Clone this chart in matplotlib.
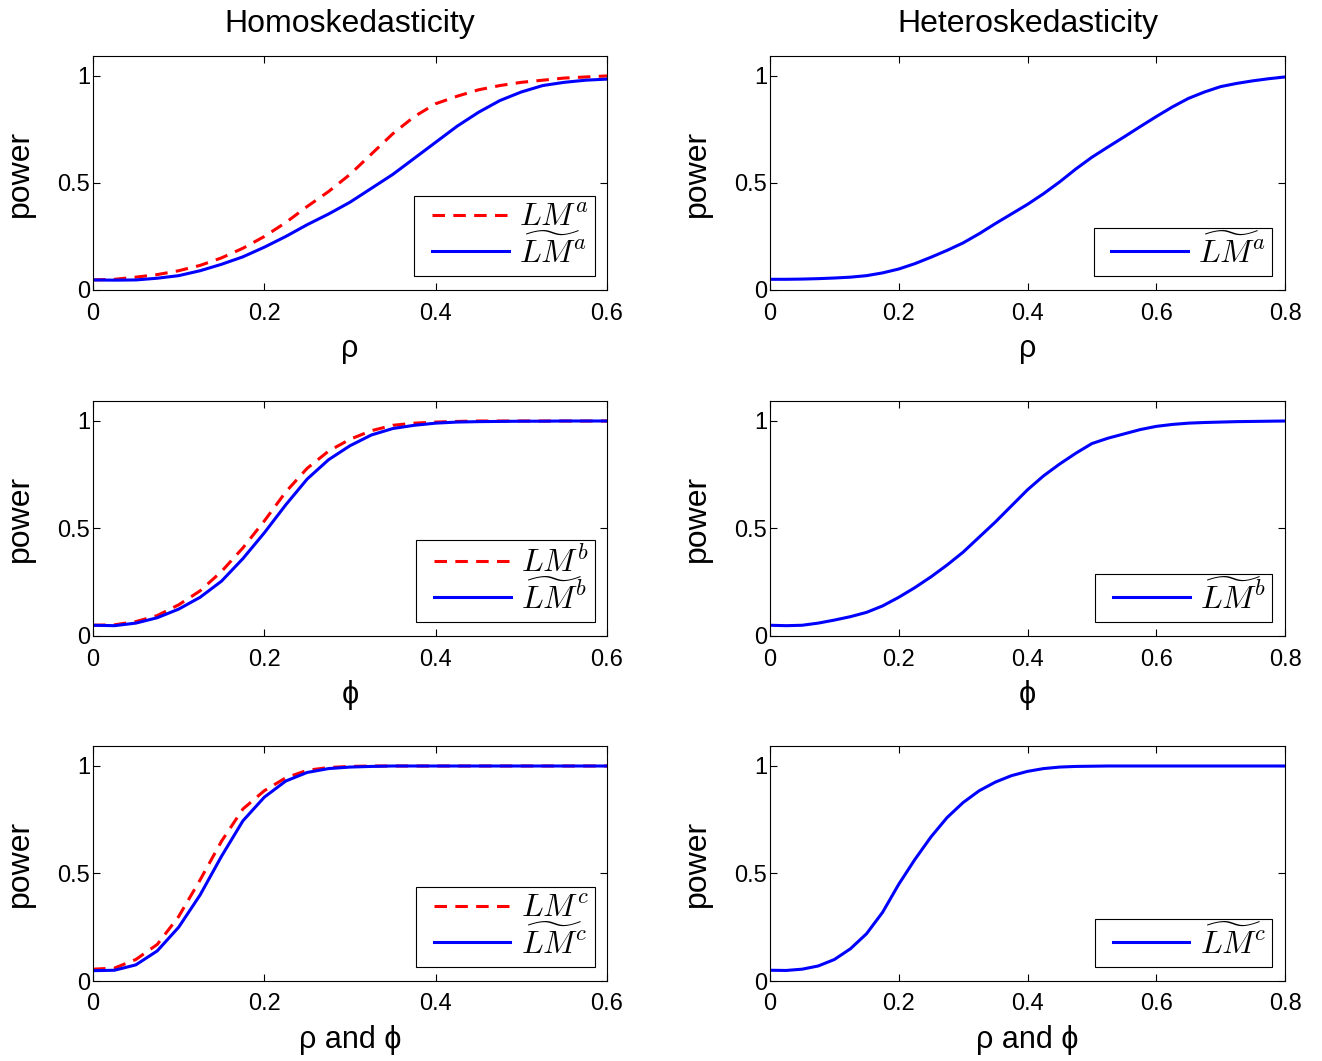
import numpy as np
import matplotlib
matplotlib.use('Agg')
import matplotlib.pyplot as plt
from matplotlib.lines import Line2D
from matplotlib.legend_handler import HandlerLine2D
from matplotlib.ticker import FormatStrFormatter

plt.rcParams['font.family'] = ['Liberation Sans', 'DejaVu Sans']
plt.rcParams['mathtext.fontset'] = 'cm'
plt.rcParams['lines.scale_dashes'] = False

# 横轴
x_left = np.arange(25) * 0.025     # 0 ~ 0.6
x_right = np.arange(33) * 0.025    # 0 ~ 0.8

# Homoskedasticity (左列)
lm_a = [0.047, 0.05, 0.06, 0.072, 0.09, 0.115, 0.15, 0.195, 0.25, 0.315, 0.39, 0.46, 0.54,
        0.635, 0.73, 0.81, 0.87, 0.905, 0.935, 0.955, 0.97, 0.98, 0.99, 0.995, 1.0]
lmt_a = [0.047, 0.046, 0.047, 0.055, 0.067, 0.09, 0.12, 0.155, 0.2, 0.25, 0.305, 0.355, 0.41,
         0.475, 0.54, 0.615, 0.69, 0.765, 0.83, 0.885, 0.925, 0.955, 0.97, 0.98, 0.985]
lm_b = [0.05, 0.052, 0.067, 0.095, 0.145, 0.21, 0.3, 0.41, 0.535, 0.67, 0.78, 0.86, 0.915,
        0.955, 0.98, 0.99, 0.995, 0.998, 1.0, 1.0, 1.0, 1.0, 1.0, 1.0, 1.0]
lmt_b = [0.05, 0.048, 0.06, 0.085, 0.125, 0.18, 0.255, 0.36, 0.48, 0.61, 0.73, 0.82, 0.885,
         0.935, 0.965, 0.98, 0.99, 0.995, 0.997, 0.998, 0.999, 0.999, 1.0, 1.0, 1.0]
lm_c = [0.055, 0.06, 0.1, 0.17, 0.3, 0.47, 0.65, 0.8, 0.885, 0.945, 0.98, 0.993, 0.998,
        1.0, 1.0, 1.0, 1.0, 1.0, 1.0, 1.0, 1.0, 1.0, 1.0, 1.0, 1.0]
lmt_c = [0.048, 0.05, 0.075, 0.14, 0.25, 0.4, 0.58, 0.745, 0.855, 0.93, 0.97, 0.988, 0.995,
         0.998, 1.0, 1.0, 1.0, 1.0, 1.0, 1.0, 1.0, 1.0, 1.0, 1.0, 1.0]

# Heteroskedasticity (右列)
het_a = [0.05, 0.05, 0.051, 0.053, 0.056, 0.06, 0.067, 0.08, 0.098, 0.123, 0.153, 0.185, 0.22,
         0.263, 0.31, 0.355, 0.4, 0.45, 0.505, 0.565, 0.62, 0.668, 0.715, 0.763, 0.81, 0.855,
         0.895, 0.925, 0.95, 0.965, 0.977, 0.987, 0.995]
het_b = [0.05, 0.048, 0.05, 0.06, 0.074, 0.09, 0.11, 0.14, 0.18, 0.225, 0.275, 0.33, 0.39,
         0.46, 0.53, 0.605, 0.68, 0.745, 0.8, 0.85, 0.895, 0.92, 0.94, 0.96, 0.975, 0.984,
         0.99, 0.993, 0.995, 0.997, 0.998, 0.999, 1.0]
het_c = [0.05, 0.049, 0.055, 0.07, 0.1, 0.15, 0.22, 0.32, 0.45, 0.565, 0.67, 0.76, 0.83,
         0.885, 0.925, 0.955, 0.975, 0.988, 0.995, 0.998, 0.999, 1.0, 1.0, 1.0, 1.0, 1.0,
         1.0, 1.0, 1.0, 1.0, 1.0, 1.0, 1.0]

xlabels = ['ρ', 'ϕ', 'ρ and ϕ']
sup = ['a', 'b', 'c']
homo = [(lm_a, lmt_a), (lm_b, lmt_b), (lm_c, lmt_c)]
hetero = [het_a, het_b, het_c]

fig = plt.figure(figsize=(13.22, 10.61), dpi=100)

W, H = 1322, 1061
rows = [(56, 290), (401, 636), (746, 981)]
cols = [(93, 607), (770, 1285)]

leg_kw = dict(loc='lower right', borderaxespad=0, fontsize=23, fancybox=False,
              edgecolor='black', framealpha=1, handlelength=2.75, labelspacing=0.05,
              borderpad=0.2, handletextpad=0.33,
              handler_map={Line2D: HandlerLine2D(xpad=0.36)})


def style_axes(ax, xmax, xticks, xlabel):
    ax.set_xlim(0, xmax)
    ax.set_ylim(0, 1.093)
    ax.set_xticks(xticks)
    ax.set_yticks([0, 0.5, 1])
    ax.xaxis.set_major_formatter(FormatStrFormatter('%g'))
    ax.yaxis.set_major_formatter(FormatStrFormatter('%g'))
    ax.tick_params(direction='in', top=True, right=True, length=5, width=0.8,
                   labelsize=17)
    ax.tick_params(axis='x', pad=9)
    ax.tick_params(axis='y', pad=2)
    for s in ax.spines.values():
        s.set_linewidth(0.8)
    ax.set_xlabel(xlabel, fontsize=22, labelpad=7)
    ax.set_ylabel('power', fontsize=23)
    ax.yaxis.set_label_coords(-0.113, 0.5)


for i in range(3):
    top, bot = rows[i]
    # 左列
    l, r = cols[0]
    ax = fig.add_axes([l / W, 1 - bot / H, (r - l) / W, (bot - top) / H])
    ax.plot(x_left, homo[i][0], color='red', lw=2.2, dashes=(9, 6),
            label=r'$LM^%s\ $' % sup[i])
    ax.plot(x_left, homo[i][1], color='blue', lw=2.2,
            label=r'$\widetilde{LM}^{%s}\ $' % sup[i])
    style_axes(ax, 0.6, [0, 0.2, 0.4, 0.6], xlabels[i])
    leg = ax.legend(bbox_to_anchor=(0.977, 0.06), **leg_kw)
    leg.get_frame().set_linewidth(0.8)
    if i == 0:
        ax.set_title('Homoskedasticity', fontsize=23, pad=17)

    # 右列
    l, r = cols[1]
    ax = fig.add_axes([l / W, 1 - bot / H, (r - l) / W, (bot - top) / H])
    ax.plot(x_right, hetero[i], color='blue', lw=2.2,
            label=r'$\widetilde{LM}^{%s}\ $' % sup[i])
    style_axes(ax, 0.8, [0, 0.2, 0.4, 0.6, 0.8], xlabels[i])
    leg = ax.legend(bbox_to_anchor=(0.975, 0.06), **leg_kw)
    leg.get_frame().set_linewidth(0.8)
    if i == 0:
        ax.set_title('Heteroskedasticity', fontsize=23, pad=17)

fig.savefig('out.png', dpi=100)
